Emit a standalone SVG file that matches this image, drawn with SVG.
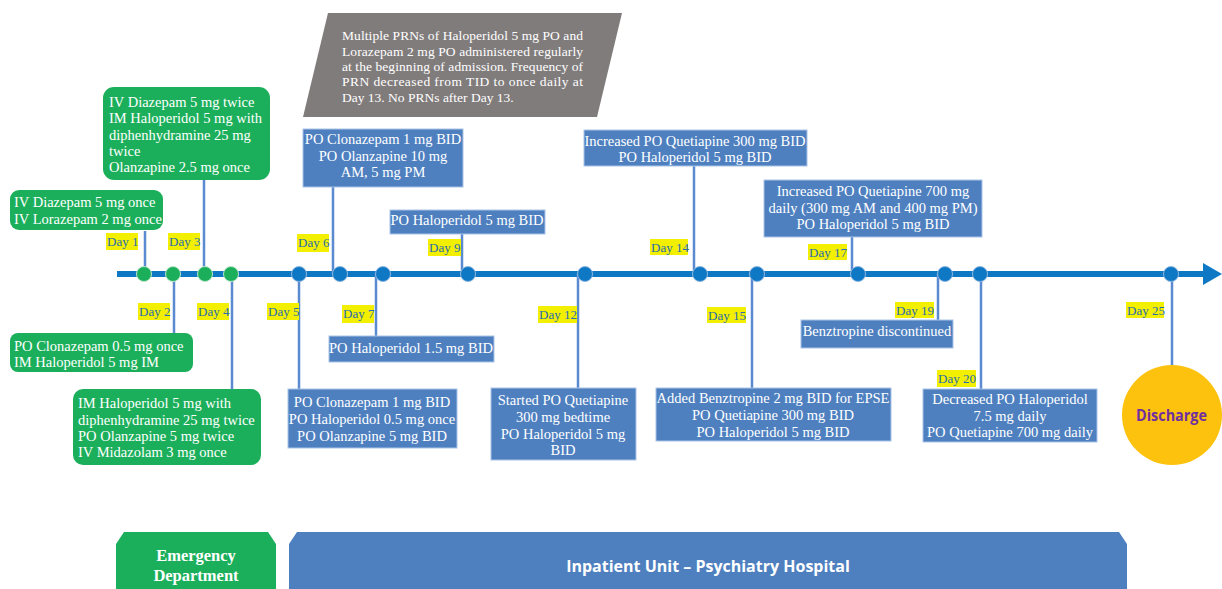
<svg xmlns="http://www.w3.org/2000/svg" width="1222" height="589" viewBox="0 0 1222 589">
<style>
.t{font-family:"Liberation Serif","Times New Roman",serif;font-size:14.5px;fill:#fff}
.c{text-anchor:middle}
.g{fill:#1caf5b}
.b{fill:#4e80c0;stroke:#a9c4e8;stroke-width:1}
.dl{fill:#f2f000}
.dt{font-family:"Liberation Serif","Times New Roman",serif;font-size:13px;fill:#2a6cb0}
.conn line{stroke:#5a8ad0;stroke-width:2.5}
.gc{fill:#1caf5b;stroke:#bfe6cc;stroke-width:1}
.bc{fill:#0e78c4;stroke:#8fb6e2;stroke-width:1}
</style>
<rect width="1222" height="589" fill="#fff"/>

<!-- timeline -->
<g id="timeline">
<line x1="117" y1="274" x2="1206" y2="274" stroke="#0e78c4" stroke-width="6"/>
<polygon points="1203,263 1222,274 1203,285" fill="#0e78c4"/>
</g>

<!-- connectors -->
<g id="connectors" class="conn">
<line x1="145" y1="231" x2="145" y2="274"/>
<line x1="204" y1="180" x2="204" y2="274"/>
<line x1="174" y1="274" x2="174" y2="333"/>
<line x1="232" y1="274" x2="232" y2="389"/>
<line x1="299" y1="274" x2="299" y2="389"/>
<line x1="333" y1="187" x2="333" y2="274"/>
<line x1="376" y1="274" x2="376" y2="336"/>
<line x1="462" y1="234" x2="462" y2="274"/>
<line x1="578" y1="274" x2="578" y2="388"/>
<line x1="694" y1="166" x2="694" y2="274"/>
<line x1="752" y1="274" x2="752" y2="388"/>
<line x1="852" y1="237" x2="852" y2="274"/>
<line x1="938" y1="274" x2="938" y2="320"/>
<line x1="981" y1="274" x2="981" y2="389"/>
<line x1="1172" y1="274" x2="1172" y2="365"/>
</g>

<!-- timeline dots -->
<g id="dots">
<circle class="gc" cx="144" cy="274" r="7.5"/>
<circle class="gc" cx="173" cy="274" r="7.5"/>
<circle class="gc" cx="205" cy="274" r="7.5"/>
<circle class="gc" cx="231" cy="274" r="7.5"/>
<circle class="bc" cx="299" cy="274" r="7.5"/>
<circle class="bc" cx="340" cy="274" r="7.5"/>
<circle class="bc" cx="383" cy="274" r="7.5"/>
<circle class="bc" cx="468" cy="274" r="7.5"/>
<circle class="bc" cx="585" cy="274" r="7.5"/>
<circle class="bc" cx="700" cy="274" r="7.5"/>
<circle class="bc" cx="757" cy="274" r="7.5"/>
<circle class="bc" cx="858" cy="274" r="7.5"/>
<circle class="bc" cx="945" cy="274" r="7.5"/>
<circle class="bc" cx="980" cy="274" r="7.5"/>
<circle class="bc" cx="1171" cy="274" r="7.5"/>
</g>

<!-- day labels -->
<g id="day-labels">
<rect class="dl" x="106" y="233" width="32" height="17"/><text class="dt" x="107" y="246">Day 1</text>
<rect class="dl" x="168" y="233" width="32" height="17"/><text class="dt" x="169" y="246">Day 3</text>
<rect class="dl" x="138" y="303" width="32" height="17"/><text class="dt" x="139" y="316">Day 2</text>
<rect class="dl" x="197" y="303" width="32" height="17"/><text class="dt" x="198" y="316">Day 4</text>
<rect class="dl" x="267" y="303" width="32" height="17"/><text class="dt" x="268" y="316">Day 5</text>
<rect class="dl" x="297" y="234" width="32" height="18"/><text class="dt" x="298" y="247">Day 6</text>
<rect class="dl" x="342" y="305" width="32" height="18"/><text class="dt" x="343" y="318">Day 7</text>
<rect class="dl" x="428" y="239" width="33" height="17"/><text class="dt" x="429" y="252">Day 9</text>
<rect class="dl" x="538" y="306" width="39" height="17"/><text class="dt" x="539" y="319">Day 12</text>
<rect class="dl" x="650" y="239" width="38" height="16"/><text class="dt" x="651" y="252">Day 14</text>
<rect class="dl" x="707" y="307" width="39" height="16"/><text class="dt" x="708" y="320">Day 15</text>
<rect class="dl" x="808" y="244" width="39" height="16"/><text class="dt" x="809" y="257">Day 17</text>
<rect class="dl" x="895" y="302" width="39" height="16"/><text class="dt" x="896" y="315">Day 19</text>
<rect class="dl" x="937" y="370" width="39" height="17"/><text class="dt" x="938" y="383">Day 20</text>
<rect class="dl" x="1126" y="302" width="38" height="16"/><text class="dt" x="1127" y="315">Day 25</text>
</g>

<!-- green boxes -->
<g id="day1-box">
<rect class="g" x="10" y="190" width="153" height="40" rx="9"/>
<text class="t" x="14" y="207">IV Diazepam 5 mg once</text>
<text class="t" x="14" y="224">IV Lorazepam 2 mg once</text>
</g>
<g id="day3-box">
<rect class="g" x="103" y="87" width="167" height="93" rx="11"/>
<text class="t" x="109" y="107">IV Diazepam 5 mg twice</text>
<text class="t" x="109" y="123">IM Haloperidol 5 mg with</text>
<text class="t" x="109" y="140">diphenhydramine 25 mg</text>
<text class="t" x="109" y="156">twice</text>
<text class="t" x="109" y="172">Olanzapine 2.5 mg once</text>
</g>
<g id="day2-box">
<rect class="g" x="10" y="333" width="183" height="39" rx="8"/>
<text class="t" x="14" y="351">PO Clonazepam 0.5 mg once</text>
<text class="t" x="14" y="367">IM Haloperidol 5 mg IM</text>
</g>
<g id="day4-box">
<rect class="g" x="73" y="389" width="188" height="76" rx="10"/>
<text class="t" x="78" y="408">IM Haloperidol 5 mg with</text>
<text class="t" x="78" y="425">diphenhydramine 25 mg twice</text>
<text class="t" x="78" y="441">PO Olanzapine 5 mg twice</text>
<text class="t" x="78" y="457">IV Midazolam 3 mg once</text>
</g>

<!-- gray note -->
<g id="prn-note">
<polygon points="328,13 622,13 597,117 303,117" fill="#817c7c"/>
<g font-family="'Liberation Serif','Times New Roman',serif" font-size="13.5px" fill="#fff">
<text x="342" y="40" textLength="241" lengthAdjust="spacing">Multiple PRNs of Haloperidol 5 mg PO and</text>
<text x="342" y="56" textLength="241" lengthAdjust="spacing">Lorazepam 2 mg PO administered regularly</text>
<text x="342" y="71" textLength="241" lengthAdjust="spacing">at the beginning of admission. Frequency of</text>
<text x="342" y="86" textLength="241" lengthAdjust="spacing">PRN decreased from TID to once daily at</text>
<text x="342" y="102">Day 13. No PRNs after Day 13.</text>
</g>
</g>

<!-- blue boxes -->
<g id="day6-box">
<rect class="b" x="303" y="129" width="160" height="58"/>
<text class="t c" x="383" y="144">PO Clonazepam 1 mg BID</text>
<text class="t c" x="383" y="161">PO Olanzapine 10 mg</text>
<text class="t c" x="383" y="177">AM, 5 mg PM</text>
</g>
<g id="day9-box">
<rect class="b" x="390" y="210" width="155" height="24"/>
<text class="t c" x="467" y="225">PO Haloperidol 5 mg BID</text>
</g>
<g id="day7-box">
<rect class="b" x="329" y="336" width="165" height="26"/>
<text class="t c" x="411" y="353">PO Haloperidol 1.5 mg BID</text>
</g>
<g id="day5-box">
<rect class="b" x="288" y="389" width="169" height="59"/>
<text class="t c" x="372" y="407">PO Clonazepam 1 mg BID</text>
<text class="t c" x="372" y="424">PO Haloperidol 0.5 mg once</text>
<text class="t c" x="372" y="441">PO Olanzapine 5 mg BID</text>
</g>
<g id="day12-box">
<rect class="b" x="491" y="388" width="145" height="72"/>
<text class="t c" x="563" y="405">Started PO Quetiapine</text>
<text class="t c" x="563" y="422">300 mg bedtime</text>
<text class="t c" x="563" y="439">PO Haloperidol 5 mg</text>
<text class="t c" x="563" y="455">BID</text>
</g>
<g id="day14-box">
<rect class="b" x="584" y="130" width="223" height="36"/>
<text class="t c" x="695" y="146">Increased PO Quetiapine 300 mg BID</text>
<text class="t c" x="695" y="162">PO Haloperidol 5 mg BID</text>
</g>
<g id="day17-box">
<rect class="b" x="764" y="180" width="218" height="57"/>
<text class="t c" x="873" y="196">Increased PO Quetiapine 700 mg</text>
<text class="t c" x="873" y="213">daily (300 mg AM and 400 mg PM)</text>
<text class="t c" x="873" y="229">PO Haloperidol 5 mg BID</text>
</g>
<g id="day15-box">
<rect class="b" x="656" y="388" width="235" height="53"/>
<text class="t c" x="773" y="403">Added Benztropine 2 mg BID for EPSE</text>
<text class="t c" x="773" y="420">PO Quetiapine 300 mg BID</text>
<text class="t c" x="773" y="437">PO Haloperidol 5 mg BID</text>
</g>
<g id="day19-box">
<rect class="b" x="801" y="320" width="152" height="28"/>
<text class="t c" x="877" y="336">Benztropine discontinued</text>
</g>
<g id="day20-box">
<rect class="b" x="923" y="389" width="174" height="53"/>
<text class="t c" x="1010" y="404">Decreased PO Haloperidol</text>
<text class="t c" x="1010" y="421">7.5 mg daily</text>
<text class="t c" x="1010" y="437">PO Quetiapine 700 mg daily</text>
</g>

<!-- discharge -->
<g id="discharge">
<circle cx="1172" cy="415" r="50" fill="#fdc20d"/>
<text x="1136" y="421" textLength="71" lengthAdjust="spacingAndGlyphs" font-family="'Open Sans','Liberation Sans',sans-serif" font-weight="bold" font-size="15.5px" fill="#7030a0">Discharge</text>
</g>

<!-- bottom banners -->
<g id="emergency-department">
<polygon points="124,532 268,532 276,544 276,589 116,589 116,544" fill="#1caf5b"/>
<text class="c" x="196" y="561" font-family="'Liberation Serif','Times New Roman',serif" font-weight="bold" font-size="16.5px" fill="#fff">Emergency</text>
<text class="c" x="196" y="581" font-family="'Liberation Serif','Times New Roman',serif" font-weight="bold" font-size="16.5px" fill="#fff">Department</text>
</g>
<g id="inpatient-unit">
<polygon points="297,532 1119,532 1127,544 1127,589 289,589 289,544" fill="#4e80c0"/>
<text class="c" x="708" y="572" font-family="'Open Sans','Liberation Sans',sans-serif" font-weight="bold" font-size="16px" fill="#fff">Inpatient Unit – Psychiatry Hospital</text>
</g>
</svg>
